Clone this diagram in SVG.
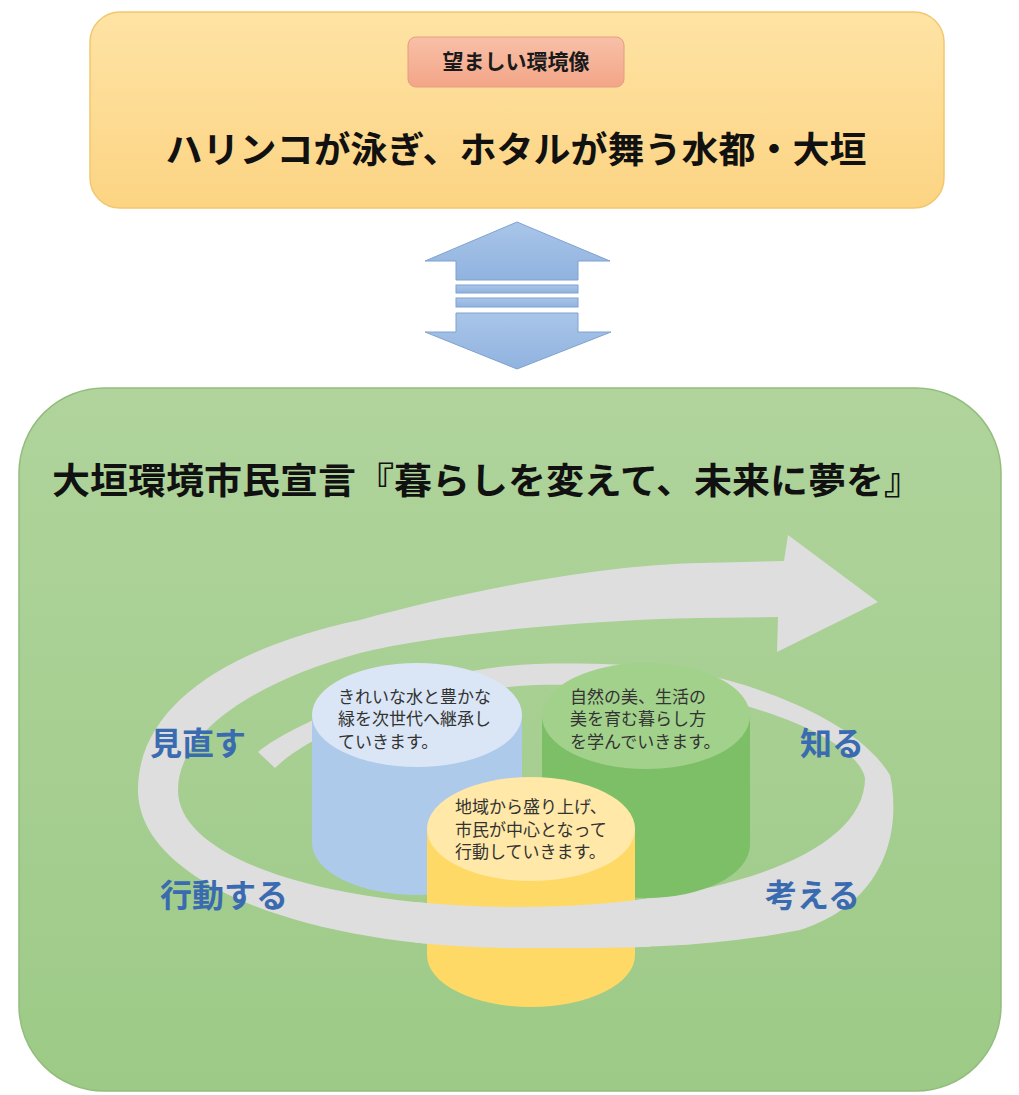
<svg xmlns="http://www.w3.org/2000/svg" width="1019" height="1095" viewBox="0 0 1019 1095">
<style>
text{font-family:'Liberation Sans','Noto Sans CJK JP',sans-serif;}
.ttl{font-size:36px;font-weight:700;fill:#111;}
.lbl{font-size:21px;font-weight:700;fill:#1a1a1a;}
.cyl{font-size:17px;fill:#333;}
.step{font-size:32px;font-weight:700;fill:#3A6BB0;}
.ring{fill:#DEDEDE;}
</style>
<defs>
<linearGradient id="gTop" x1="0" y1="0" x2="0" y2="1"><stop offset="0" stop-color="#FEE3A4"/><stop offset="1" stop-color="#FCD483"/></linearGradient>
<linearGradient id="gLbl" x1="0" y1="0" x2="0" y2="1"><stop offset="0" stop-color="#F8C0A8"/><stop offset="1" stop-color="#F3A587"/></linearGradient>
<linearGradient id="gArr" x1="0" y1="0" x2="0" y2="1"><stop offset="0" stop-color="#A9C5E9"/><stop offset="1" stop-color="#90B3DF"/></linearGradient>
<linearGradient id="gGreen" x1="0" y1="0" x2="0" y2="1"><stop offset="0" stop-color="#B0D49C"/><stop offset="1" stop-color="#9DCA87"/></linearGradient>
<clipPath id="front"><rect x="415" y="888" width="235" height="75"/></clipPath>
</defs>

<g id="node-vision">
<rect x="90" y="12" width="854" height="196" rx="30" fill="url(#gTop)" stroke="#F1C86E" stroke-width="1.5"/>
<rect x="408" y="37" width="216" height="50" rx="8" fill="url(#gLbl)" stroke="#E79C80" stroke-width="1"/>
<text class="lbl" x="516" y="69" text-anchor="middle">望ましい環境像</text>
<text class="ttl" x="516" y="163" text-anchor="middle" textLength="701" lengthAdjust="spacingAndGlyphs">ハリンコが泳ぎ、ホタルが舞う水都・大垣</text>
</g>

<g id="connectors">
<path d="M517,222 L610,261 L578,261 L578,280 L456,280 L456,261 L425,261 Z" fill="url(#gArr)" stroke="#7FA2CF" stroke-width="1"/>
<rect x="456" y="285" width="122" height="8" fill="url(#gArr)" stroke="#7FA2CF" stroke-width="1"/>
<rect x="456" y="298" width="122" height="9" fill="url(#gArr)" stroke="#7FA2CF" stroke-width="1"/>
<path d="M456,313 L578,313 L578,332 L611,332 L517,369 L425,332 L456,332 Z" fill="url(#gArr)" stroke="#7FA2CF" stroke-width="1"/>
</g>

<g id="node-declaration">
<rect x="19" y="388" width="982" height="703" rx="85" fill="url(#gGreen)" stroke="#92BD7D" stroke-width="1.5"/>
<text class="ttl" x="487" y="494" text-anchor="middle" textLength="870" lengthAdjust="spacingAndGlyphs">大垣環境市民宣言『暮らしを変えて、未来に夢を』</text>
</g>

<g id="cycle-arrow">
<path id="ringPath" class="ring" d="M258,752 C300,718 430,668 536,664 C620,662 680,668 727,680 C775,693 860,725 890,775 C900,820 893,900 800,930 C700,950 610,948 520,948 C300,948 138,880 138,790 C138,700 240,645 360,620 C470,590 600,565 700,563 L784,561 L788,535 L878,602 L777,652 L778,617 L700,618 C580,620 430,635 360,653 C260,680 178,730 178,790 C178,860 330,907 520,907 C700,907 865,860 865,778 C860,755 820,728 750,707 C690,690 600,683 536,685 C430,690 320,725 275,768 Z"/>
</g>

<g id="node-water">
<path d="M312,715 L312,843 A105,52 0 0 0 522,843 L522,715 Z" fill="#ADCAEB"/>
<ellipse cx="417" cy="715" rx="105" ry="52" fill="#DAE6F6"/>
<text class="cyl" x="338" y="703">きれいな水と豊かな</text>
<text class="cyl" x="338" y="725">緑を次世代へ継承し</text>
<text class="cyl" x="338" y="748">ていきます。</text>
</g>

<g id="node-nature">
<path d="M542,716 L542,845 A104,53 0 0 0 750,845 L750,716 Z" fill="#7DBF66"/>
<ellipse cx="646" cy="716" rx="104" ry="53" fill="#A2D18C"/>
<text class="cyl" x="570" y="703">自然の美、生活の</text>
<text class="cyl" x="570" y="725">美を育む暮らし方</text>
<text class="cyl" x="570" y="748">を学んでいきます。</text>
</g>

<g id="node-action">
<path d="M427,829 L427,955 A104,52 0 0 0 635,955 L635,829 Z" fill="#FFD966"/>
<ellipse cx="531" cy="829" rx="104" ry="52" fill="#FFE8A8"/>
<text class="cyl" x="455" y="813">地域から盛り上げ、</text>
<text class="cyl" x="455" y="836">市民が中心となって</text>
<text class="cyl" x="455" y="858">行動していきます。</text>
</g>

<g id="cycle-front">
<use href="#ringPath" clip-path="url(#front)"/>
</g>

<g id="step-labels">
<text class="step" x="150" y="755">見直す</text>
<text class="step" x="800" y="755">知る</text>
<text class="step" x="160" y="907">行動する</text>
<text class="step" x="765" y="907">考える</text>
</g>
</svg>
